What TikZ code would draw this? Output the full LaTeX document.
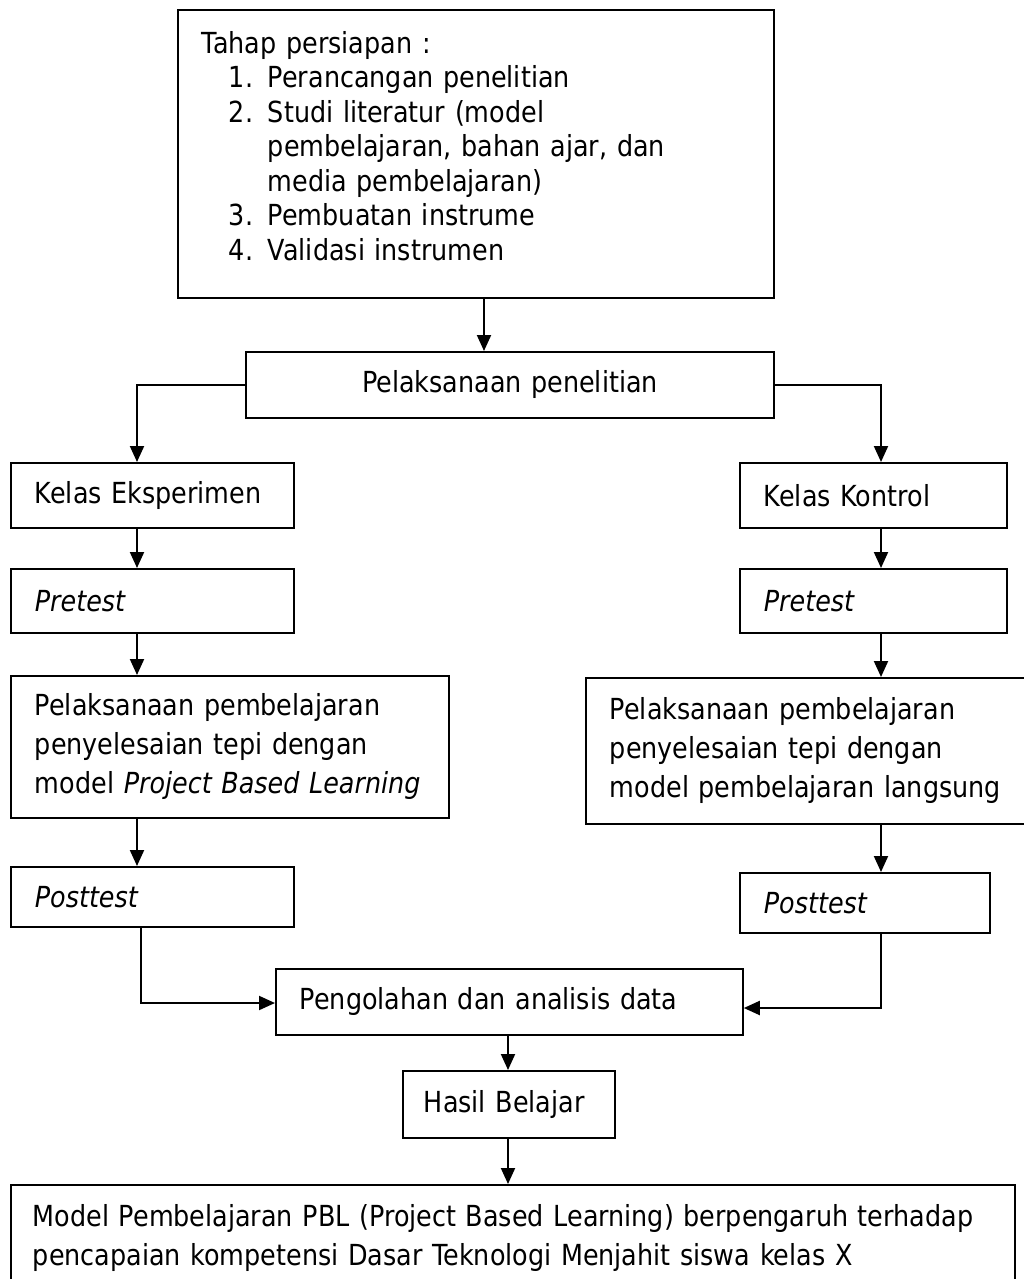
\documentclass[tikz,border=0pt]{standalone}
\usepackage{fontspec}
\setmainfont{DejaVu Sans}[FakeStretch=0.877]
\usetikzlibrary{arrows.meta}
\begin{document}
\begin{tikzpicture}[x=1pt,y=-1pt,
  box/.style={draw, line width=1.8pt, rectangle, anchor=north west,
    inner xsep=24pt, inner ysep=0pt, align=left,
    font=\fontsize{29}{39}\selectfont},
  cbox/.style={box, align=center},
  arr/.style={line width=2pt, -{Triangle[length=16pt,width=14pt]}}]
\useasboundingbox (0,0) rectangle (1024,1279);
% nodes
\node[box, minimum width=596pt, minimum height=288pt, text width=548pt,
  font=\fontsize{29}{34.5}\selectfont] (prep) at (177,9)
  {Tahap persiapan :\\
   \hspace*{27pt}\makebox[39pt][l]{1.}Perancangan penelitian\\
   \hspace*{27pt}\makebox[39pt][l]{2.}Studi literatur (model\\
   \hspace*{66pt}pembelajaran, bahan ajar, dan\\
   \hspace*{66pt}media pembelajaran)\\
   \hspace*{27pt}\makebox[39pt][l]{3.}Pembuatan instrume\\
   \hspace*{27pt}\makebox[39pt][l]{4.}Validasi instrumen\\[-18pt]\mbox{}};
\node[cbox, minimum width=528pt, minimum height=66pt, text width=480pt] (pel) at (245,351)
  {Pelaksanaan penelitian};
\node[box, minimum width=283pt, minimum height=65pt, text width=235pt] (ke) at (10,462)
  {Kelas Eksperimen};
\node[box, minimum width=267pt, minimum height=65pt, text width=219pt] (kk) at (739,462)
  {Kelas Kontrol};
\node[box, minimum width=283pt, minimum height=64pt, text width=235pt] (pre1) at (10,568)
  {\itshape Pretest};
\node[box, minimum width=267pt, minimum height=64pt, text width=219pt] (pre2) at (739,568)
  {\itshape Pretest};
\node[box, minimum width=433pt, minimum height=142pt, text width=390pt] (pbl1) at (10,675)
  {Pelaksanaan pembelajaran\\penyelesaian tepi dengan\\model \textit{Project Based Learning}};
\node[box, minimum width=437pt, minimum height=146pt, text width=394pt] (pbl2) at (585,677)
  {Pelaksanaan pembelajaran\\penyelesaian tepi dengan\\model pembelajaran langsung};
\node[box, minimum width=283pt, minimum height=60pt, text width=235pt] (post1) at (10,866)
  {\itshape Posttest};
\node[box, minimum width=250pt, minimum height=60pt, text width=202pt] (post2) at (739,872)
  {\itshape Posttest};
\node[box, minimum width=467pt, minimum height=66pt, text width=419pt, inner xsep=22pt] (peng) at (275,968)
  {Pengolahan dan analisis data};
\node[box, minimum width=212pt, minimum height=67pt, text width=170pt, inner xsep=21pt] (hasil) at (402,1070)
  {Hasil Belajar};
\node[box, minimum width=1003pt, minimum height=106pt, text width=960pt, inner xsep=22pt] (fin) at (10,1184)
  {Model Pembelajaran PBL (Project Based Learning) berpengaruh terhadap\\
   pencapaian kompetensi Dasar Teknologi Menjahit siswa kelas X};
% connectors
\draw[arr] (484,0 |- prep.south) -- (484,0 |- pel.north);
\draw[arr] (pel.west) -| (137,0 |- ke.north);
\draw[arr] (pel.east) -| (881,0 |- kk.north);
\draw[arr] (137,0 |- ke.south) -- (137,0 |- pre1.north);
\draw[arr] (881,0 |- kk.south) -- (881,0 |- pre2.north);
\draw[arr] (137,0 |- pre1.south) -- (137,0 |- pbl1.north);
\draw[arr] (881,0 |- pre2.south) -- (881,0 |- pbl2.north);
\draw[arr] (137,0 |- pbl1.south) -- (137,0 |- post1.north);
\draw[arr] (881,0 |- pbl2.south) -- (881,0 |- post2.north);
\draw[arr] (141,0 |- post1.south) |- (peng.west |- 0,1003);
\draw[arr] (881,0 |- post2.south) |- (peng.east |- 0,1008);
\draw[arr] (508,0 |- peng.south) -- (508,0 |- hasil.north);
\draw[arr] (508,0 |- hasil.south) -- (508,0 |- fin.north);
\end{tikzpicture}
\end{document}
